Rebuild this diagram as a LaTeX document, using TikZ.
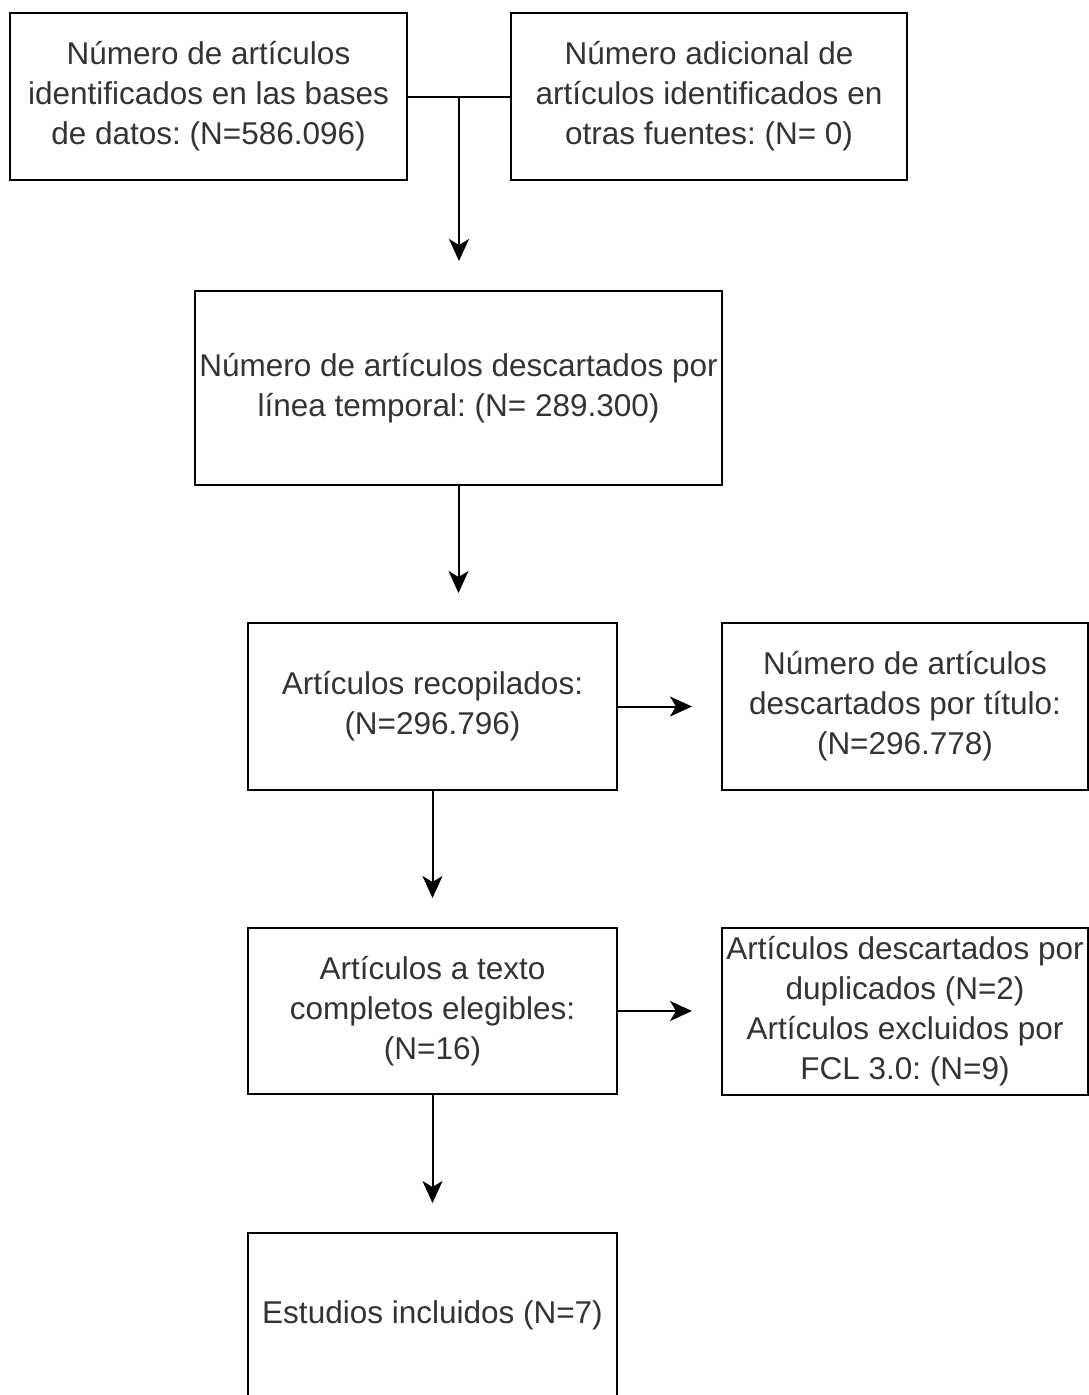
\documentclass[tikz,border=0pt]{standalone}
\usepackage{fontspec}
\setmainfont{Liberation Sans}
\frenchspacing
\usetikzlibrary{arrows.meta}
\definecolor{txt}{HTML}{333333}
\begin{document}
\begin{tikzpicture}[x=1pt,y=-1pt,
  box/.style={draw=black, line width=2pt, rectangle, inner sep=0pt, align=center,
    font=\fontsize{31.5}{40}\selectfont, text=txt},
  conn/.style={draw=black, line width=2pt},
  arr/.style={conn, -{Stealth[length=22pt,width=20pt,inset=6pt]}, shorten >=29pt}]
\useasboundingbox (0,0) rectangle (1089,1395);
\clip (0,0) rectangle (1089,1395);
\node[box, minimum width=397pt, minimum height=167pt] (b1) at (208.5,96.5)
  {Número de artículos\\identificados en las bases\\de datos: (N=586.096)};
\node[box, minimum width=396pt, minimum height=167pt] (b2) at (709,96.5)
  {Número adicional de\\artículos identificados en\\otras fuentes: (N= 0)};
\node[box, minimum width=527pt, minimum height=194pt] (b3) at (458.5,388)
  {Número de artículos descartados por\\línea temporal: (N= 289.300)};
\node[box, minimum width=369pt, minimum height=167pt] (b4) at (432.5,706.5)
  {Artículos recopilados:\\(N=296.796)};
\node[box, minimum width=366pt, minimum height=167pt] (b5) at (905,706.5)
  {Número de artículos\\descartados por título:\\(N=296.778)};
\node[box, minimum width=369pt, minimum height=166pt] (b6) at (432.5,1011)
  {Artículos a texto\\completos elegibles:\\(N=16)};
\node[box, minimum width=366pt, minimum height=167pt] (b7) at (905,1011.5)
  {Artículos descartados por\\duplicados (N=2)\\Artículos excluidos por\\FCL 3.0: (N=9)};
\node[box, minimum width=369pt, minimum height=164pt] (b8) at (432.5,1315)
  {Estudios incluidos (N=7)};
\draw[conn] (b1.east) -- (b2.west);
\coordinate (j) at (459,96.5);
\draw[arr] (j) -- (j |- b3.north);
\draw[arr] (b3.south) -- (b3.south |- b4.north);
\draw[arr] (b4.east) -- (b5.west);
\draw[arr] (b4.south) -- (b6.north);
\draw[arr] (b6.east) -- (b6.east -| b7.west);
\draw[arr] (b6.south) -- (b8.north);
\end{tikzpicture}
\end{document}
